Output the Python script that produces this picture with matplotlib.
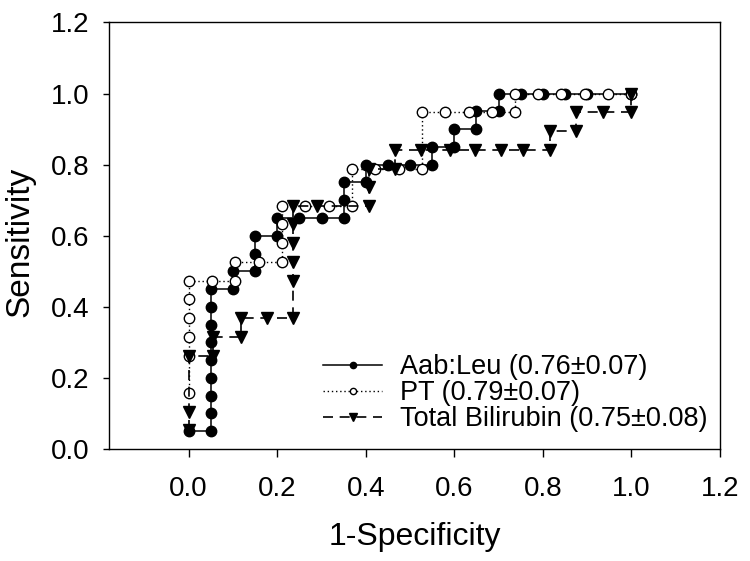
import numpy as np
import matplotlib
matplotlib.use('Agg')
import matplotlib.pyplot as plt

plt.rcParams['font.family'] = ['Liberation Sans', 'DejaVu Sans']

# ROC points
aab_x = [0, 0.05, 0.05, 0.05, 0.05, 0.05, 0.05, 0.05, 0.05, 0.05, 0.10, 0.10, 0.15, 0.15, 0.15,
         0.20, 0.20, 0.25, 0.30, 0.35, 0.35, 0.35, 0.40, 0.40, 0.45, 0.50, 0.55, 0.55, 0.60, 0.60,
         0.65, 0.65, 0.70, 0.70, 0.75, 0.80, 0.85, 0.90, 1.00]
aab_y = [0.05, 0.05, 0.10, 0.15, 0.20, 0.25, 0.30, 0.35, 0.40, 0.45, 0.45, 0.50, 0.50, 0.55, 0.60,
         0.60, 0.65, 0.65, 0.65, 0.65, 0.70, 0.75, 0.75, 0.80, 0.80, 0.80, 0.80, 0.85, 0.85, 0.90,
         0.90, 0.95, 0.95, 1.00, 1.00, 1.00, 1.00, 1.00, 1.00]

pt_x = [0, 0, 0, 0, 0, 0, 0.053, 0.105, 0.105, 0.158, 0.21, 0.21, 0.21, 0.21, 0.263, 0.316,
        0.368, 0.368, 0.421, 0.474, 0.526, 0.526, 0.579, 0.632, 0.684, 0.737, 0.737, 0.789,
        0.842, 0.895, 0.947, 1.0]
pt_y = [0.158, 0.263, 0.316, 0.368, 0.421, 0.474, 0.474, 0.474, 0.526, 0.526, 0.526, 0.579,
        0.632, 0.684, 0.684, 0.684, 0.684, 0.789, 0.789, 0.789, 0.789, 0.947, 0.947, 0.947,
        0.947, 0.947, 1.0, 1.0, 1.0, 1.0, 1.0, 1.0]

bil_x = [0, 0, 0, 0.055, 0.055, 0.118, 0.118, 0.176, 0.235, 0.235, 0.235, 0.235, 0.235, 0.235,
         0.29, 0.408, 0.408, 0.408, 0.467, 0.467, 0.525, 0.59, 0.647, 0.705, 0.756, 0.815, 0.815,
         0.875, 0.875, 0.935, 1.0, 1.0]
bil_y = [0.053, 0.105, 0.263, 0.263, 0.316, 0.316, 0.368, 0.368, 0.368, 0.474, 0.526, 0.579,
         0.632, 0.684, 0.684, 0.684, 0.737, 0.789, 0.789, 0.842, 0.842, 0.842, 0.842, 0.842,
         0.842, 0.842, 0.895, 0.895, 0.947, 0.947, 0.947, 1.0]

labels = ['Aab:Leu (0.76\u00b10.07)', 'PT (0.79\u00b10.07)', 'Total Bilirubin (0.75\u00b10.08)']
ticks = [0.0, 0.2, 0.4, 0.6, 0.8, 1.0, 1.2]

fig = plt.figure(figsize=(7.5, 5.61), dpi=100)
ax = fig.add_axes([0.1453, 0.1996, 0.8147, 0.7603])

ax.plot(aab_x, aab_y, color='black', linestyle='-', linewidth=1.1,
        marker='o', markersize=7.5, markerfacecolor='black', label=labels[0])
ax.plot(pt_x, pt_y, color='black', linestyle=(0, (1, 2)), linewidth=1.0,
        marker='o', markersize=7.5, markerfacecolor='white', markeredgewidth=1.0, label=labels[1])
ax.plot(bil_x, bil_y, color='black', linestyle=(0, (6, 4)), linewidth=1.2,
        marker='v', markersize=9, markerfacecolor='black', label=labels[2])

ax.set_xlim(-0.18, 1.2)
ax.set_ylim(0, 1.2)
ax.set_xticks(ticks)
ax.set_yticks(ticks)
ax.set_xticklabels(['%.1f' % t for t in ticks])
ax.set_yticklabels(['%.1f' % t for t in ticks])
ax.tick_params(axis='x', direction='out', length=5.5, width=1, pad=14, labelsize=20)
ax.tick_params(axis='y', direction='out', length=4, width=1, pad=10, labelsize=20)
for s in ax.spines.values():
    s.set_linewidth(1.0)

ax.set_xlabel('1-Specificity', fontsize=23)
ax.set_ylabel('Sensitivity', fontsize=24)
ax.xaxis.set_label_coords(0.5, -0.17)
ax.yaxis.set_label_coords(-0.12, 0.485)

ax.legend(loc='upper left', bbox_to_anchor=(0.35, 0.222), frameon=False, fontsize=19.5,
          handlelength=2.2, handletextpad=0.65, labelspacing=0.0, borderpad=0,
          borderaxespad=0, markerscale=0.6)

fig.savefig('out.png', dpi=100)
